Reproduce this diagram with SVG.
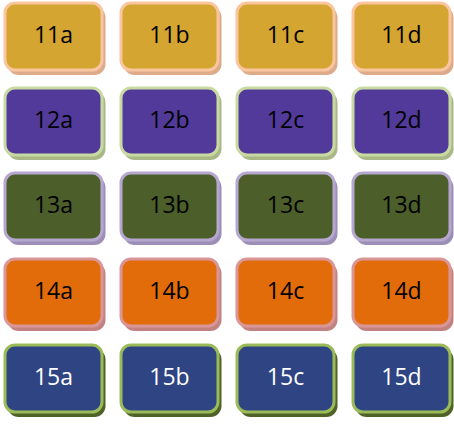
<svg xmlns="http://www.w3.org/2000/svg" width="454" height="429" viewBox="0 0 454 429">
<style>
.b{stroke-width:3}
.sh{stroke:none}
.t{font-family:"Open Sans","Liberation Sans",sans-serif;font-size:23px;text-anchor:middle;fill:#000}
.r11 .b{fill:#D4A531;stroke:#F9C6A0}.r11 .sh{fill:#DDAA8A}
.r12 .b{fill:#523A9A;stroke:#C9D9A2}.r12 .sh{fill:#A9B886}
.r13 .b{fill:#4C5E2A;stroke:#B6A7D0}.r13 .sh{fill:#9C8EB6}
.r14 .b{fill:#E36C0A;stroke:#DA9696}.r14 .sh{fill:#C28282}
.r15 .b{fill:#2E4483;stroke:#9BBB59}.r15 .sh{fill:#4F6228}.r15 .t{fill:#fff}
</style>
<g class="r11">
<g id="n11a" transform="translate(5,3)"><rect class="sh" x="2.5" y="3.5" width="98" height="68.5" rx="11"/><rect class="b" width="97" height="67" rx="10"/><text class="t" x="48.5" y="40">11a</text></g>
<g id="n11b" transform="translate(121,3)"><rect class="sh" x="2.5" y="3.5" width="98" height="68.5" rx="11"/><rect class="b" width="97" height="67" rx="10"/><text class="t" x="48.5" y="40">11b</text></g>
<g id="n11c" transform="translate(237,3)"><rect class="sh" x="2.5" y="3.5" width="98" height="68.5" rx="11"/><rect class="b" width="97" height="67" rx="10"/><text class="t" x="48.5" y="40">11c</text></g>
<g id="n11d" transform="translate(353,3)"><rect class="sh" x="2.5" y="3.5" width="98" height="68.5" rx="11"/><rect class="b" width="97" height="67" rx="10"/><text class="t" x="48.5" y="40">11d</text></g>
</g>
<g class="r12">
<g id="n12a" transform="translate(5,88)"><rect class="sh" x="2.5" y="3.5" width="98" height="68.5" rx="11"/><rect class="b" width="97" height="67" rx="10"/><text class="t" x="48.5" y="40">12a</text></g>
<g id="n12b" transform="translate(121,88)"><rect class="sh" x="2.5" y="3.5" width="98" height="68.5" rx="11"/><rect class="b" width="97" height="67" rx="10"/><text class="t" x="48.5" y="40">12b</text></g>
<g id="n12c" transform="translate(237,88)"><rect class="sh" x="2.5" y="3.5" width="98" height="68.5" rx="11"/><rect class="b" width="97" height="67" rx="10"/><text class="t" x="48.5" y="40">12c</text></g>
<g id="n12d" transform="translate(353,88)"><rect class="sh" x="2.5" y="3.5" width="98" height="68.5" rx="11"/><rect class="b" width="97" height="67" rx="10"/><text class="t" x="48.5" y="40">12d</text></g>
</g>
<g class="r13">
<g id="n13a" transform="translate(5,173)"><rect class="sh" x="2.5" y="3.5" width="98" height="68.5" rx="11"/><rect class="b" width="97" height="67" rx="10"/><text class="t" x="48.5" y="40">13a</text></g>
<g id="n13b" transform="translate(121,173)"><rect class="sh" x="2.5" y="3.5" width="98" height="68.5" rx="11"/><rect class="b" width="97" height="67" rx="10"/><text class="t" x="48.5" y="40">13b</text></g>
<g id="n13c" transform="translate(237,173)"><rect class="sh" x="2.5" y="3.5" width="98" height="68.5" rx="11"/><rect class="b" width="97" height="67" rx="10"/><text class="t" x="48.5" y="40">13c</text></g>
<g id="n13d" transform="translate(353,173)"><rect class="sh" x="2.5" y="3.5" width="98" height="68.5" rx="11"/><rect class="b" width="97" height="67" rx="10"/><text class="t" x="48.5" y="40">13d</text></g>
</g>
<g class="r14">
<g id="n14a" transform="translate(5,259)"><rect class="sh" x="2.5" y="3.5" width="98" height="68.5" rx="11"/><rect class="b" width="97" height="67" rx="10"/><text class="t" x="48.5" y="40">14a</text></g>
<g id="n14b" transform="translate(121,259)"><rect class="sh" x="2.5" y="3.5" width="98" height="68.5" rx="11"/><rect class="b" width="97" height="67" rx="10"/><text class="t" x="48.5" y="40">14b</text></g>
<g id="n14c" transform="translate(237,259)"><rect class="sh" x="2.5" y="3.5" width="98" height="68.5" rx="11"/><rect class="b" width="97" height="67" rx="10"/><text class="t" x="48.5" y="40">14c</text></g>
<g id="n14d" transform="translate(353,259)"><rect class="sh" x="2.5" y="3.5" width="98" height="68.5" rx="11"/><rect class="b" width="97" height="67" rx="10"/><text class="t" x="48.5" y="40">14d</text></g>
</g>
<g class="r15">
<g id="n15a" transform="translate(5,345)"><rect class="sh" x="2.5" y="3.5" width="98" height="68.5" rx="11"/><rect class="b" width="97" height="67" rx="10"/><text class="t" x="48.5" y="40">15a</text></g>
<g id="n15b" transform="translate(121,345)"><rect class="sh" x="2.5" y="3.5" width="98" height="68.5" rx="11"/><rect class="b" width="97" height="67" rx="10"/><text class="t" x="48.5" y="40">15b</text></g>
<g id="n15c" transform="translate(237,345)"><rect class="sh" x="2.5" y="3.5" width="98" height="68.5" rx="11"/><rect class="b" width="97" height="67" rx="10"/><text class="t" x="48.5" y="40">15c</text></g>
<g id="n15d" transform="translate(353,345)"><rect class="sh" x="2.5" y="3.5" width="98" height="68.5" rx="11"/><rect class="b" width="97" height="67" rx="10"/><text class="t" x="48.5" y="40">15d</text></g>
</g>
<g id="connectors"/>
</svg>
